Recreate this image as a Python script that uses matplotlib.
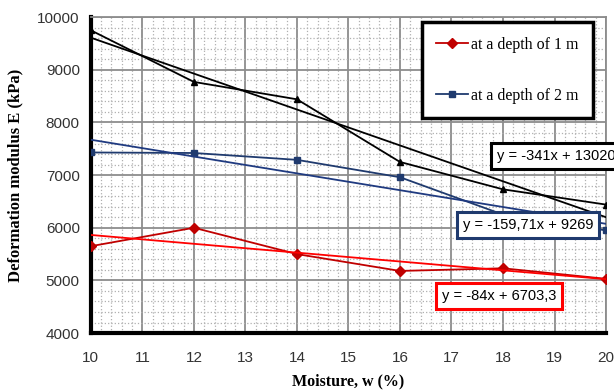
import numpy as np
import matplotlib
matplotlib.use('Agg')
import matplotlib.pyplot as plt
from matplotlib.ticker import MultipleLocator

# moisture values (%)
moisture = [10, 12, 14, 16, 18, 20]

# deformation modulus E (kPa)
depth_1m = [5650, 6000, 5500, 5180, 5230, 5030]
depth_2m = [7430, 7420, 7290, 6960, 6250, 5950]
third_set = [9750, 8770, 8440, 7250, 6730, 6440]

# trend lines (slope, intercept) and their labels
trend_1m = (-84, 6703.3)
trend_2m = (-159.71, 9269)
trend_3 = (-341, 13020)
label_1m = 'y = -84x + 6703,3'
label_2m = 'y = -159,71x + 9269'
label_3 = 'y = -341x + 13020'

fig = plt.figure(figsize=(6.14, 3.9), dpi=100)
ax = fig.add_axes([0.148, 0.146, 0.839, 0.810])

# grid
ax.xaxis.set_major_locator(MultipleLocator(1))
ax.xaxis.set_minor_locator(MultipleLocator(0.2))
ax.yaxis.set_major_locator(MultipleLocator(1000))
ax.yaxis.set_minor_locator(MultipleLocator(200))
ax.grid(which='major', color='#8c8c8c', linewidth=1.3, zorder=0)
ax.grid(which='minor', color='#b0b0b0', linestyle=':', linewidth=0.9, zorder=0)
ax.set_axisbelow(True)

xs = np.array([min(moisture), max(moisture)])

# black series + trend
ax.plot(moisture, third_set, color='black', marker='^', markersize=5, linewidth=1.3, zorder=3)
ax.plot(xs, trend_3[0] * xs + trend_3[1], color='black', linewidth=1.3, zorder=3)

# depth 2 m
l2, = ax.plot(moisture, depth_2m, color='#1f3a6e', marker='s', markersize=5, linewidth=1.3,
              zorder=3, label='at a depth of 2 m')
ax.plot(xs, trend_2m[0] * xs + trend_2m[1], color='#1f3a80', linewidth=1.3, zorder=3)

# depth 1 m
l1, = ax.plot(moisture, depth_1m, color='#c00000', marker='D', markersize=5, linewidth=1.3,
              zorder=3, label='at a depth of 1 m')
ax.plot(xs, trend_1m[0] * xs + trend_1m[1], color='#ff0000', linewidth=1.3, zorder=3)

ax.set_xlim(10, 20)
ax.set_ylim(4000, 10000)

for s in ['top', 'right']:
    ax.spines[s].set_color('#8c8c8c')
    ax.spines[s].set_linewidth(1.3)
for s in ['left', 'bottom']:
    ax.spines[s].set_color('black')
    ax.spines[s].set_linewidth(3)

ax.tick_params(which='both', length=0, labelsize=11, pad=8)
for lab in ax.get_xticklabels() + ax.get_yticklabels():
    lab.set_fontfamily('Liberation Sans')
    lab.set_color('#333333')
ax.tick_params(axis='x', pad=13)

ax.set_xlabel('Moisture, w (%)', fontfamily='Liberation Serif', fontweight='bold', fontsize=11.5, labelpad=6)
ax.set_ylabel('Deformation modulus E (kPa)', fontfamily='Liberation Serif', fontweight='bold',
              fontsize=12, labelpad=10)

leg = ax.legend(handles=[l1, l2], loc='upper right', bbox_to_anchor=(0.975, 0.984),
                borderaxespad=0, prop={'family': 'Liberation Serif', 'size': 11.5}, fancybox=False,
                framealpha=1, edgecolor='black', labelspacing=2.2, handlelength=2.0,
                handletextpad=0.2, borderpad=0.9)
leg.get_frame().set_linewidth(2.5)

# trend labels
box = dict(boxstyle='square,pad=0.4', facecolor='white', linewidth=2.2)
ax.text(17.88, 7362, label_3, fontfamily='Liberation Sans', fontsize=10.5, va='center',
        bbox=dict(box, edgecolor='black'), zorder=5, clip_on=False)
ax.text(17.22, 6053, label_2m, fontfamily='Liberation Sans', fontsize=10.5, va='center',
        bbox=dict(box, edgecolor='#1f3a6e'), zorder=5)
ax.text(16.82, 4706, label_1m, fontfamily='Liberation Sans', fontsize=10.5, va='center',
        bbox=dict(box, edgecolor='#ff0000'), zorder=5)

plt.savefig('out.png', dpi=100)
